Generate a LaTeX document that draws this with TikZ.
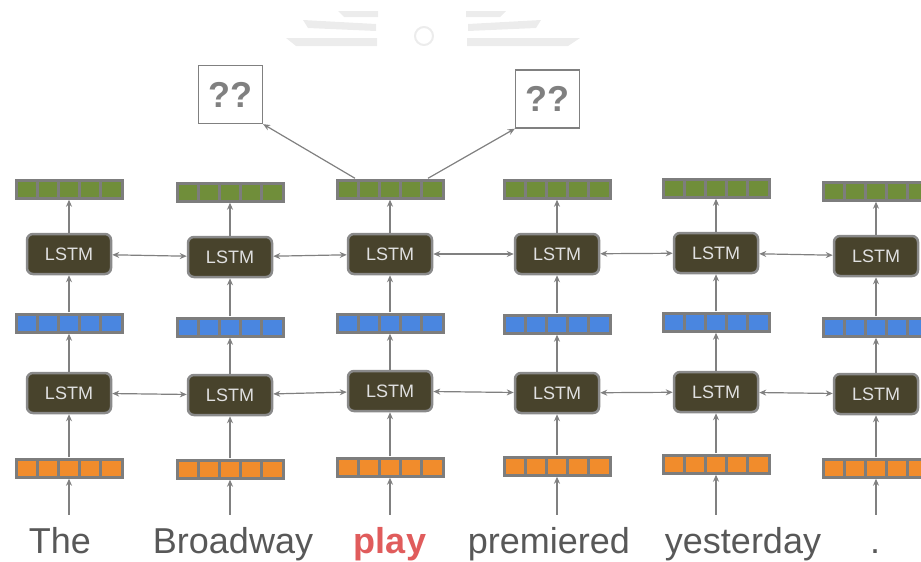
\documentclass[tikz,border=0pt]{standalone}
\usepackage{fontspec}
\setmainfont{Liberation Sans}
\usetikzlibrary{arrows,arrows.meta,calc,positioning}
\definecolor{vgreen}{RGB}{112,142,58}
\definecolor{vblue}{RGB}{74,134,224}
\definecolor{vorange}{RGB}{241,140,44}
\definecolor{bargray}{RGB}{125,125,125}
\definecolor{cellfill}{RGB}{72,67,44}
\definecolor{cellline}{RGB}{138,138,138}
\definecolor{wordgray}{RGB}{88,88,88}
\definecolor{playred}{RGB}{224,92,92}
\definecolor{linkgray}{RGB}{128,128,128}
\definecolor{markgray}{RGB}{236,236,236}
\tikzstyle{cell}=[rectangle,rounded corners=6pt,draw=cellline,line width=2.5pt,fill=cellfill,
  minimum width=84pt,minimum height=40pt,inner sep=0pt,text=white!88!black,
  font=\fontsize{18}{20}\selectfont]
\tikzstyle{word}=[anchor=base,inner xsep=0pt,inner ysep=11pt,text height=27pt,text depth=7pt,
  text=wordgray,font=\fontsize{36}{40}\selectfont]
\tikzstyle{guess}=[rectangle,draw=linkgray,line width=1.3pt,minimum width=64pt,minimum height=58pt,
  inner sep=0pt,text=linkgray,font=\bfseries\fontsize{36}{40}\selectfont]
\tikzstyle{link}=[draw=linkgray,line width=1.2pt]
\tikzset{vec/.style={rectangle,fill=bargray,inner sep=0pt,minimum width=109pt,minimum height=21pt,
  path picture={\foreach \i in {0,...,4}
    \fill[#1] ([shift={({3pt+\i*21.1pt},3pt)}]path picture bounding box.south west) rectangle ++(18.6pt,15pt);}}}

\begin{document}
\begin{tikzpicture}[x=1pt,y=-1pt,>={Stealth[length=7pt,width=6pt]}]
    \useasboundingbox (0,0) rectangle (921,562);

    % faint seal at the top
    \fill[markgray] (338,11) -- (378,11) -- (378,17) -- (344,17) -- cycle;
    \fill[markgray] (303,20) -- (376,24) -- (376,31) -- (308,28) -- cycle;
    \fill[markgray] (286,38) -- (377,38) -- (377,46) -- (296,46) -- cycle;
    \fill[markgray] (466,11) -- (506,11) -- (500,17) -- (466,17) -- cycle;
    \fill[markgray] (468,24) -- (541,20) -- (536,28) -- (468,31) -- cycle;
    \fill[markgray] (467,38) -- (580,38) -- (568,46) -- (467,46) -- cycle;
    \filldraw[fill=white,draw=markgray,line width=2pt] (424,36) circle (9);

    % columns: x, green, upper LSTM, blue, lower LSTM, orange
    \foreach \c/\x/\yg/\yt/\yb/\yl/\yo in {1/69/189/254/323/393/468,2/230/192/257/327/395/469,
      3/390/189/254/323/391/467,4/557/189/254/324/393/466,5/716/188/253/322/392/464,6/876/191/256/327/394/468}{
      \node[vec=vorange] (o\c) at (\x,\yo) {};
      \node[cell] (l\c) at (\x,\yl) {LSTM};
      \node[vec=vblue] (b\c) at (\x,\yb) {};
      \node[cell] (t\c) at (\x,\yt) {LSTM};
      \node[vec=vgreen] (g\c) at (\x,\yg) {};
      \draw[link,->] (o\c) -- (l\c);
      \draw[link,->] (l\c) -- (b\c);
      \draw[link,->] (b\c) -- (t\c);
      \draw[link,->] (t\c) -- (g\c);
    }

    \node[word] (w1) at (60,553) {The};
    \node[word] (w2) at (233,553) {Broadway};
    \node[word,text=playred,font=\bfseries\fontsize{36}{40}\selectfont] (w3) at (390,553) {play};
    \node[word] (w4) at (549,553) {premiered};
    \node[word] (w5) at (743,553) {yesterday};
    \node[word] (w6) at (875,553) {.};

    \foreach \c in {1,...,6}
      \draw[link,->] (o\c |- w\c.north) -- (o\c.south);

    \foreach \a/\b in {1/2,2/3,3/4,4/5,5/6}{
      \draw[link,<->] (l\a) -- (l\b);
      \draw[link,<->] (t\a) -- (t\b);
    }

    \node[guess] (q1) at (230.5,94.5) {??};
    \node[guess] (q2) at (547.5,99) {??};
    \draw[link,->] ([xshift=-35pt]g3.north) -- (q1.south east);
    \draw[link,->] ([xshift=38pt]g3.north) -- (q2.south west);
\end{tikzpicture}
\end{document}
